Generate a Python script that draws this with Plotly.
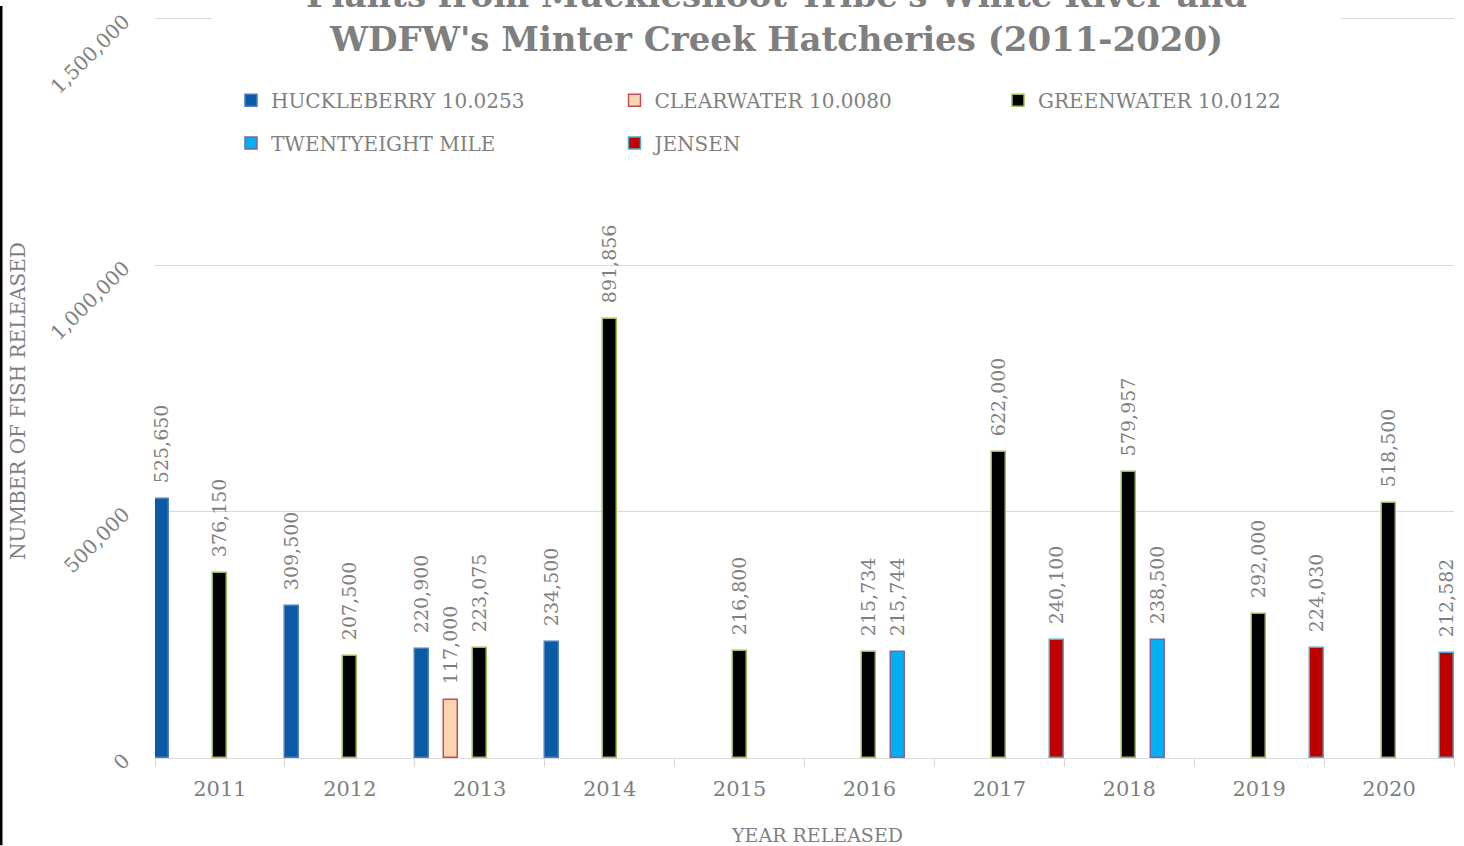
import plotly.graph_objects as go

# data
years = ["2011", "2012", "2013", "2014", "2015", "2016", "2017", "2018", "2019", "2020"]
huckleberry = [525650, 309500, 220900, 234500, None, None, None, None, None, None]
clearwater = [None, None, 117000, None, None, None, None, None, None, None]
greenwater = [376150, 207500, 223075, 891856, 216800, 215734, 622000, 579957, 292000, 518500]
twentyeight = [None, None, None, None, None, 215744, None, 238500, None, None]
jensen = [None, None, None, None, None, None, 240100, None, 224030, 212582]

series_names = ["HUCKLEBERRY 10.0253", "CLEARWATER 10.0080", "GREENWATER 10.0122",
                "TWENTYEIGHT MILE", "JENSEN"]
series_values = [huckleberry, clearwater, greenwater, twentyeight, jensen]

# styles
fills = ["#0b5aa6", "#fbd4b4", "#000000", "#00b0f0", "#c00000"]
edges = ["#4a7fc0", "#c0504d", "#9bbb59", "#8064a2", "#4bacc6"]
legend_of = ["legend", "legend", "legend", "legend2", "legend2"]
FONT = "DejaVu Serif"
GREY = "#7f7f7f"
W, H = 1464, 846
L, R, T, B = 155, 10, 11, 88
YMAX = 1504000
bar_w = 0.108
slot = 0.223
GAP = "\u00a0\u00a0"  # little gap between bar top and its label

fig = go.Figure()
for i, (name, vals) in enumerate(zip(series_names, series_values)):
    center = (i - 2) * slot
    fig.add_trace(go.Bar(
        x=years, y=vals, name=name, legend=legend_of[i],
        width=bar_w, offset=center - bar_w / 2,
        marker=dict(color=fills[i], line=dict(color=edges[i], width=1.5)),
        text=[GAP + f"{v:,}" if v is not None else "" for v in vals],
        textposition="outside", textangle=-90, constraintext="none",
        textfont=dict(family=FONT, size=19, color=GREY),
        cliponaxis=False,
    ))

pw = W - L - R
ph = H - T - B


def px_x(x):
    return (x - L) / pw


def px_y(y):
    return (H - B - y) / ph


legend_style = dict(orientation="h", xanchor="left", yanchor="middle",
                    entrywidth=338.5, font=dict(family=FONT, size=20, color=GREY),
                    bgcolor="rgba(0,0,0,0)", traceorder="normal")

fig.update_layout(
    width=W, height=H,
    margin=dict(l=L, r=R, t=T, b=B),
    plot_bgcolor="white", paper_bgcolor="white",
    barmode="group",
    font=dict(family=FONT, color=GREY),
    showlegend=True,
    legend=dict(x=px_x(231), y=px_y(95), **legend_style),
    legend2=dict(x=px_x(231), y=px_y(138), **legend_style),
    xaxis=dict(type="category", tickson="boundaries", ticks="outside", ticklen=8,
               tickcolor="#d9d9d9", showline=True, linecolor="#d9d9d9", linewidth=1,
               tickfont=dict(family=FONT, size=21, color=GREY), showgrid=False,
               ticklabelstandoff=12),
    yaxis=dict(range=[0, YMAX], dtick=500000, tickformat=",d", tickangle=-45,
               showgrid=True, gridcolor="#d9d9d9", gridwidth=1, zeroline=False,
               tickfont=dict(family=FONT, size=20, color=GREY), ticklabelstandoff=30),
    bargap=0,
)

# white title box that hides the top gridline, as in the original
fig.add_shape(type="rect", xref="paper", yref="paper", layer="above",
              x0=px_x(212), x1=px_x(1341), y0=px_y(60), y1=1 + T / ph,
              fillcolor="white", line=dict(width=0))
fig.add_annotation(
    text="Plants from Muckleshoot Tribe's White River and<br>WDFW's Minter Creek Hatcheries (2011-2020)",
    xref="paper", yref="paper", x=px_x(776), y=px_y(55),
    xanchor="center", yanchor="bottom", showarrow=False,
    font=dict(family=FONT, size=34, color=GREY, weight="bold"),
)
fig.add_annotation(
    text="NUMBER OF FISH RELEASED", xref="paper", yref="paper",
    x=px_x(18), y=px_y(398), textangle=-90,
    xanchor="center", yanchor="middle", showarrow=False,
    font=dict(family=FONT, size=20, color=GREY),
)
fig.add_annotation(
    text="YEAR RELEASED", xref="paper", yref="paper",
    x=px_x(817), y=px_y(836),
    xanchor="center", yanchor="middle", showarrow=False,
    font=dict(family=FONT, size=19, color=GREY),
)
# dark border on the left edge of the image
fig.add_shape(type="line", xref="paper", yref="paper",
              x0=px_x(1), x1=px_x(1), y0=-B / ph, y1=1 + T / ph,
              line=dict(color="black", width=3))

fig.write_html("out.html", config={"displayModeBar": False},
               post_script="document.body.style.margin='0';")
